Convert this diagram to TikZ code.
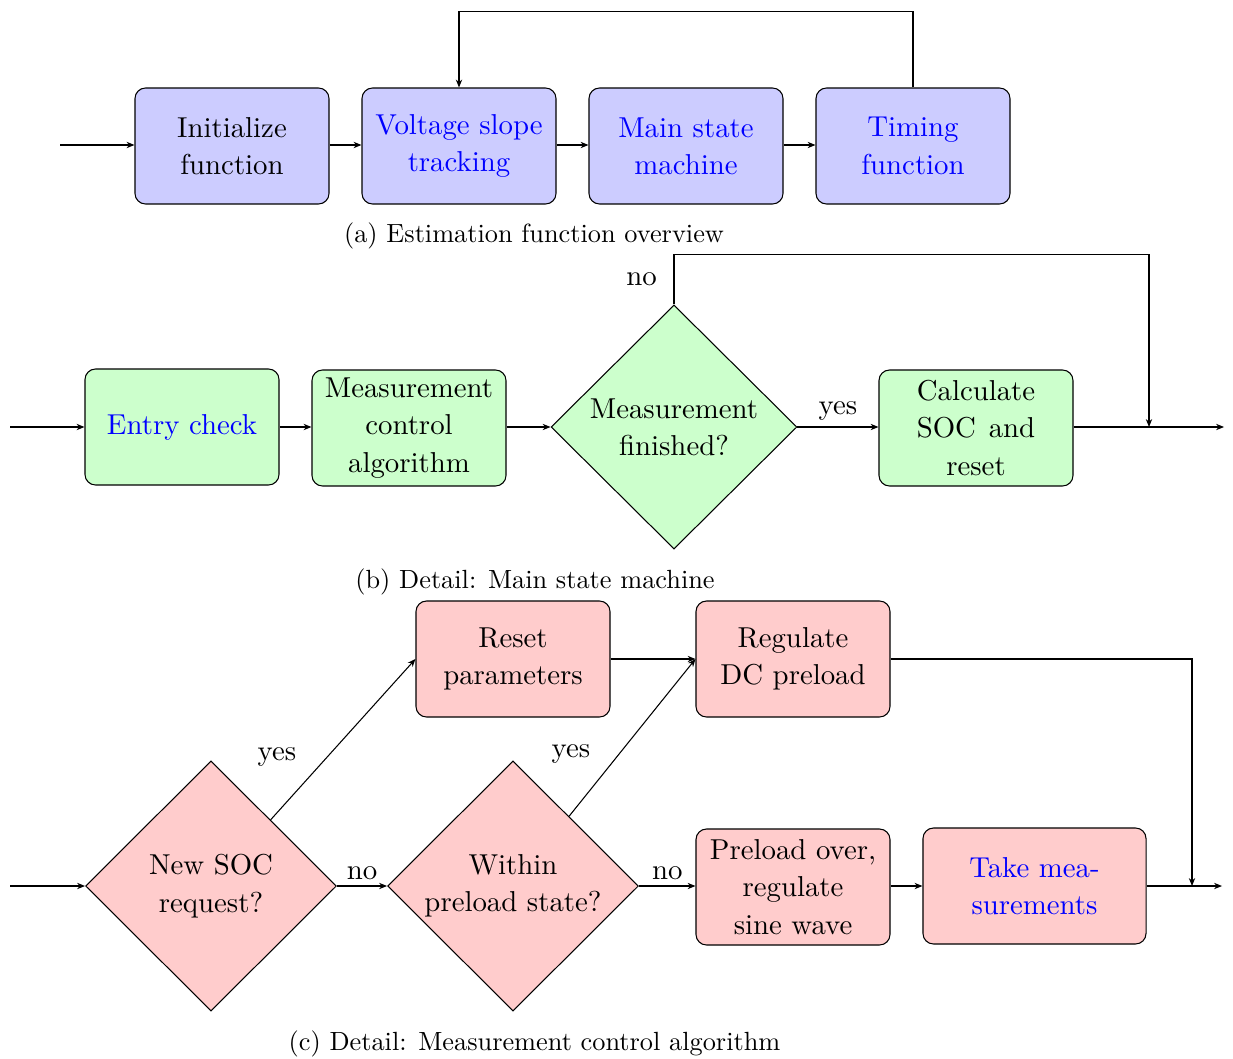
\documentclass[tikz,border=0pt]{standalone}
\usetikzlibrary{shapes.geometric,arrows.meta}
\definecolor{bfill}{HTML}{CCCCFF}
\definecolor{gfill}{HTML}{CCFFCC}
\definecolor{rfill}{HTML}{FFCCCC}
\begin{document}
\begin{tikzpicture}[x=0.3802pt,y=-0.3802pt,
  txt/.style={font=\fontsize{10.95}{14.2}\selectfont},
  box/.style={txt,draw,rounded corners=4pt,minimum width=73.76pt,minimum height=44.1pt,align=center,inner sep=2pt},
  dia/.style={txt,draw,diamond,inner sep=0pt,align=center},
  arr/.style={-{Stealth[length=3pt,width=2.4pt]}},
  captxt/.style={font=\fontsize{10}{12}\selectfont}]
\useasboundingbox (0,0) rectangle (1233,1059);
% (a)
\coordinate (ain) at (60,145);
\node[box,fill=bfill] (a1) at (232,146) {Initialize\\function};
\node[box,fill=bfill,text=blue] (a2) at (459,146) {Voltage slope\\tracking};
\node[box,fill=bfill,text=blue] (a3) at (686,146) {Main state\\machine};
\node[box,fill=bfill,text=blue] (a4) at (913,146) {Timing\\function};
\draw[arr] (ain) -- (a1.west |- ain);
\draw[arr] (a1.east |- ain) -- (a2.west |- ain);
\draw[arr] (a2.east |- ain) -- (a3.west |- ain);
\draw[arr] (a3.east |- ain) -- (a4.west |- ain);
\draw[arr] (a4.north) -- ++(0,-76) -| (a2.north);
\node[captxt] (capa) at (534,236) {(a) Estimation function overview};
% (b)
\coordinate (bin) at (10,427);
\coordinate (bout) at (1224,427);
\coordinate (bfb) at (1149,427);
\node[box,fill=gfill,text=blue] (b1) at (182,427) {Entry check};
\node[box,fill=gfill] (b2) at (409,428) {Measurement\\control\\algorithm};
\node[dia,fill=gfill,minimum width=93.5pt,minimum height=92.8pt] (bd) at (674,427) {Measurement\\finished?};
\node[box,fill=gfill] (b3) at (976,428) {Calculate\\{\setbox0\hbox{Calculate}\hbox to\wd0{SOC\hfill and}}\\reset};
\draw[arr] (bin) -- (b1.west);
\draw[arr] (b1.east) -- (b2.west |- bin);
\draw[arr] (b2.east |- bin) -- (bd.west);
\draw[arr] (bd.east) -- node[txt,above,yshift=-1pt] (byes) {yes} (b3.west |- bin);
\draw[arr] (b3.east |- bin) -- (bout);
\draw[arr] (bd.north) -- ++(0,-50) -| (bfb);
\node[txt,anchor=east] (bno) at (666,279) {no};
\node[captxt] (capb) at (535,582) {(b) Detail: Main state machine};
% (c)
\coordinate (cin) at (10,886);
\coordinate (cout) at (1222,886);
\coordinate (cfb) at (1192,886);
\node[dia,fill=rfill,minimum width=95.4pt,minimum height=95.1pt] (cd1) at (211,886) {New SOC\\request?};
\node[dia,fill=rfill,minimum width=95.4pt,minimum height=95.1pt] (cd2) at (513,886) {Within\\preload state?};
\node[box,fill=rfill] (c1) at (513,659) {Reset\\parameters};
\node[box,fill=rfill] (c2) at (793,659) {Regulate\\DC preload};
\node[box,fill=rfill] (c3) at (793,887) {Preload over,\\regulate\\sine wave};
\node[box,fill=rfill,text=blue,minimum width=84.8pt] (c4) at (1034.5,886) {Take mea-\\surements};
\draw[arr] (cin) -- (cd1.west);
\draw[arr] (cd1) -- (c1.west);
\draw[arr] (cd1.east) -- node[txt,above,yshift=-1pt] (cno1) {no} (cd2.west);
\draw[arr] (c1.east) -- (c2.west);
\draw[arr] (cd2) -- (c2.west);
\draw[arr] (cd2.east) -- node[txt,above,yshift=-1pt] (cno2) {no} (c3.west |- cin);
\draw[arr] (c3.east |- cin) -- (c4.west);
\draw[arr] (c4.east) -- (cout);
\draw[arr] (c2.east) -| (cfb);
\node[txt] (cyes1) at (277,757) {yes};
\node[txt] (cyes2) at (571,754) {yes};
\node[captxt] (capc) at (534.5,1044) {(c) Detail: Measurement control algorithm};
\end{tikzpicture}
\end{document}
